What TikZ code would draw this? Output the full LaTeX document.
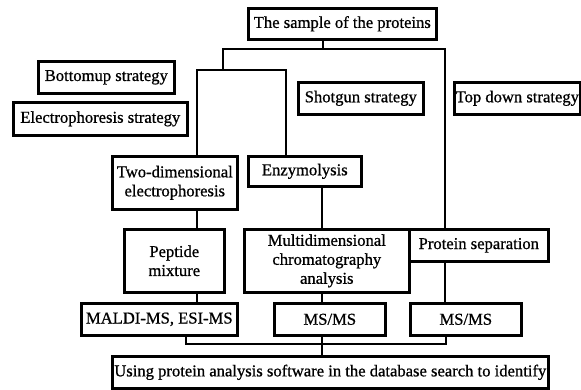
\documentclass[tikz,border=0pt]{standalone}
\usepackage{fontspec}
\setmainfont{Liberation Serif}
\newfontfamily\heavyserif{Liberation Serif}[FakeBold=0.8]
\begin{document}
\begin{tikzpicture}[x=1pt,y=-1pt,
  box/.style={draw,line width=2.6pt,rectangle,anchor=north west,inner sep=0pt,align=center,
    font=\heavyserif\fontsize{16.6}{19}\selectfont},
  conn/.style={line width=2.6pt,line join=miter}]
\useasboundingbox (0,0) rectangle (581,389);
\node[box,minimum width=188pt,minimum height=31pt] (top) at (247,7) {The sample of the proteins};
\node[box,minimum width=136pt,minimum height=32pt] (bu) at (37,60) {Bottomup strategy};
\node[box,minimum width=174pt,minimum height=33pt] (es) at (12,101) {Electrophoresis strategy};
\node[box,minimum width=125pt,minimum height=32pt] (sg) at (297,81) {Shotgun strategy};
\node[box,minimum width=126pt,minimum height=32pt] (td) at (453,81) {Top down strategy};
\node[box,minimum width=125pt,minimum height=53pt] (twod) at (111,155) {Two-dimensional\\electrophoresis};
\node[box,minimum width=113pt,minimum height=30pt] (enz) at (247,155) {Enzymolysis};
\node[box,minimum width=100pt,minimum height=63pt] (pep) at (123,228) {Peptide\\mixture};
\node[box,minimum width=165pt,minimum height=63pt] (multi) at (243,228) {Multidimensional\\chromatography\\analysis};
\node[box,minimum width=139pt,minimum height=32pt] (ps) at (408,228) {Protein separation};
\node[box,minimum width=156pt,minimum height=32pt] (maldi) at (80,302) {MALDI-MS, ESI-MS};
\node[box,minimum width=111pt,minimum height=32pt] (ms1) at (273,302) {MS/MS};
\node[box,minimum width=111pt,minimum height=32pt] (ms2) at (409,302) {MS/MS};
\node[box,minimum width=436pt,minimum height=32pt] (db) at (111,355) {Using protein analysis software in the database search to identify};
% junction coordinates
\coordinate (j1) at (323,49);
\coordinate (jl) at (223,49);
\coordinate (jr) at (445,49);
\coordinate (jl2) at (223,70);
\coordinate (ja) at (197,70);
\coordinate (jb) at (286,70);
\coordinate (k1) at (186,344);
\coordinate (k2) at (446,344);
\coordinate (km) at (322,344);
% connectors
\draw[conn] (top.south -| j1) -- (j1);
\draw[conn] (jl2) -- (jl) -- (jr) -- (jr |- ps.north);
\draw[conn] (ja |- twod.north) -- (ja) -- (jb) -- (jb |- enz.north);
\draw[conn] (km |- enz.south) -- (km |- multi.north);
\draw[conn] (ja |- twod.south) -- (ja |- pep.north);
\draw[conn] (ja |- pep.south) -- (ja |- maldi.north);
\draw[conn] (km |- multi.south) -- (km |- ms1.north);
\draw[conn] (jr |- ps.south) -- (jr |- ms2.north);
\draw[conn] (k1 |- maldi.south) -- (k1) -- (k2) -- (k2 |- ms2.south);
\draw[conn] (km |- ms1.south) -- (km |- db.north);
\end{tikzpicture}
\end{document}
